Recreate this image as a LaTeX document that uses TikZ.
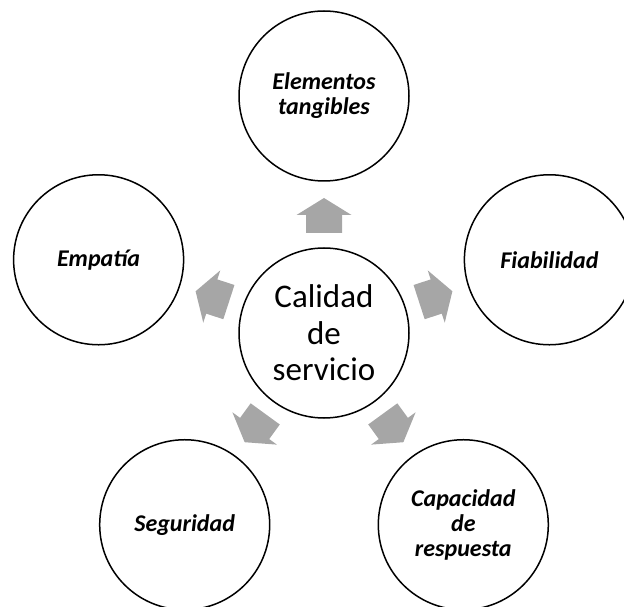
\documentclass[tikz,border=0pt]{standalone}
\usepackage{fontspec}
\setmainfont{Carlito}
\usetikzlibrary{calc}
\definecolor{arrowgray}{HTML}{A6A6A6}
\tikzset{
  outer/.style={circle, draw=black, line width=1.5pt, minimum size=170pt, inner sep=0pt,
    align=center, font=\bfseries\itshape\fontsize{24}{25}\selectfont},
  hub/.style={circle, draw=black, line width=1.5pt, minimum size=170pt, inner sep=0pt,
    align=center, font=\fontsize{33}{36.5}\selectfont},
  blockarrow/.pic={\fill[arrowgray] (-18pt,100pt) -- (18pt,100pt) -- (18pt,118pt) -- (27.5pt,118pt)
      -- (0pt,135pt) -- (-27.5pt,118pt) -- (-18pt,118pt) -- cycle;}
}
\begin{document}
\begin{tikzpicture}[x=1pt,y=1pt]
\useasboundingbox (0,0) rectangle (624,606);
\coordinate (C) at (324,273);
\node[hub] (hub) at (C) {Calidad\\de\\servicio};
\node[outer] (tang) at ($(C)+(90:237)$) {Elementos\\tangibles};
\node[outer] (fiab) at ($(C)+(18:237)$) {Fiabilidad};
\node[outer] (capa) at ($(C)+(-54:237)$) {Capacidad\\de\\respuesta};
\node[outer] (segu) at ($(C)+(234:237)$) {Seguridad};
\node[outer] (empa) at ($(C)+(162:237)$) {Empatía};
\foreach \a in {90,18,-54,234,162}{
  \pic[rotate=\a-90] at (hub.center) {blockarrow};
}
\end{tikzpicture}
\end{document}
